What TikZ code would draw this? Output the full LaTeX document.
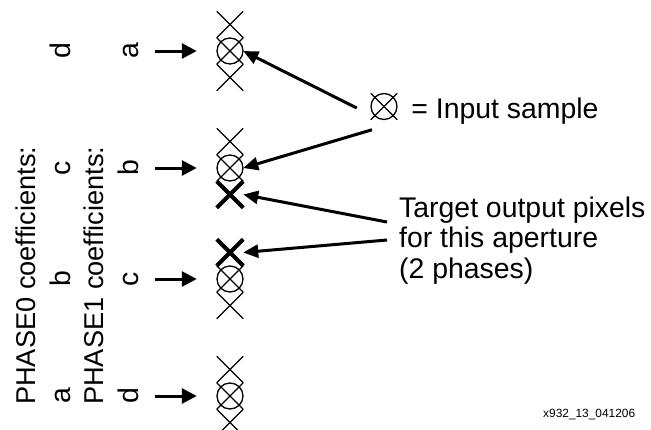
\documentclass[tikz,border=0pt]{standalone}
\usepackage{fontspec}
\setmainfont{Liberation Sans}
\usetikzlibrary{arrows.meta,positioning,shapes.misc}
\tikzset{
  xmark/.style={draw,cross out,minimum size=26.5pt,inner sep=0pt,outer sep=0pt,line width=1.3pt},
  outpx/.style={xmark,line width=4pt},
  sample/.style={xmark,label={[draw,circle,minimum size=26pt,inner sep=0pt,line width=1.3pt]center:{}}},
  note/.style={font=\fontsize{28.4}{30.5}\selectfont,inner sep=0pt},
  phase/.style={note,font=\fontsize{27.2}{30}\selectfont,rotate=90,anchor=base west},
  coef/.style={note,rotate=90,anchor=base},
  feed/.style={-{Triangle[length=15pt,width=15pt]},line width=3pt},
  pointer/.style={-{Triangle[length=15pt,width=13pt]},line width=3pt},
}

\begin{document}
\begin{tikzpicture}[x=1pt,y=-1pt]
\useasboundingbox (0,0) rectangle (651,429);
% input samples with their neighbours
\node[sample] (in1) at (230,51) {};
\node[xmark,above=0pt of in1] (x1a) {};
\node[xmark,below=0pt of in1] (x1b) {};
\node[sample] (in2) at (230,168) {};
\node[xmark,above=0pt of in2] (x2a) {};
\node[outpx,below=0pt of in2] (out1) {};
\node[sample] (in3) at (230,279) {};
\node[outpx,above=0pt of in3] (out2) {};
\node[xmark,below=0pt of in3] (x3b) {};
\node[sample] (in4) at (230,396) {};
\node[xmark,above=0pt of in4] (x4a) {};
\node[xmark,below=0pt of in4] (x4b) {};
% coefficient labels
\node[phase] (ph0) at (35,405) {PHASE0 coefficients:};
\node[phase] (ph1) at (103,405) {PHASE1 coefficients:};
\node[coef] (p0d) at (70,51) {d};
\node[coef] (p0c) at (70,168) {c};
\node[coef] (p0b) at (70,279) {b};
\node[coef] (p0a) at (70,396) {a};
\node[coef] (p1a) at (138,51) {a};
\node[coef] (p1b) at (138,168) {b};
\node[coef] (p1c) at (138,279) {c};
\node[coef] (p1d) at (138,396) {d};
\foreach \n in {in1,in2,in3,in4}
  \draw[feed] ([xshift=-62pt]\n.west) -- ([xshift=-20pt]\n.west);
% legend
\node[sample] (key) at (384,106.5) {};
\node[note,anchor=base west] (keytext) at ([xshift=14pt,yshift=-12pt]key.east) {= Input sample};
\draw[pointer] ([xshift=-14pt,yshift=-1.5pt]key.west) -- (in1.east);
\draw[pointer] ([xshift=-12pt,yshift=-10pt]key.south) -- (in2.east);
\node[note,align=left,anchor=base west] (tgt) at (399,278) {Target output pixels\\for this aperture\\(2 phases)};
\draw[pointer] ([xshift=-12pt,yshift=56pt]tgt.base west) -- (out1.east);
\draw[pointer] ([xshift=-12pt,yshift=38pt]tgt.base west) -- (out2.east);
\node[font=\fontsize{11.9}{14}\selectfont,inner sep=0pt,anchor=base west] (fig) at (543,417.5) {x932\_13\_041206};
\end{tikzpicture}
\end{document}
